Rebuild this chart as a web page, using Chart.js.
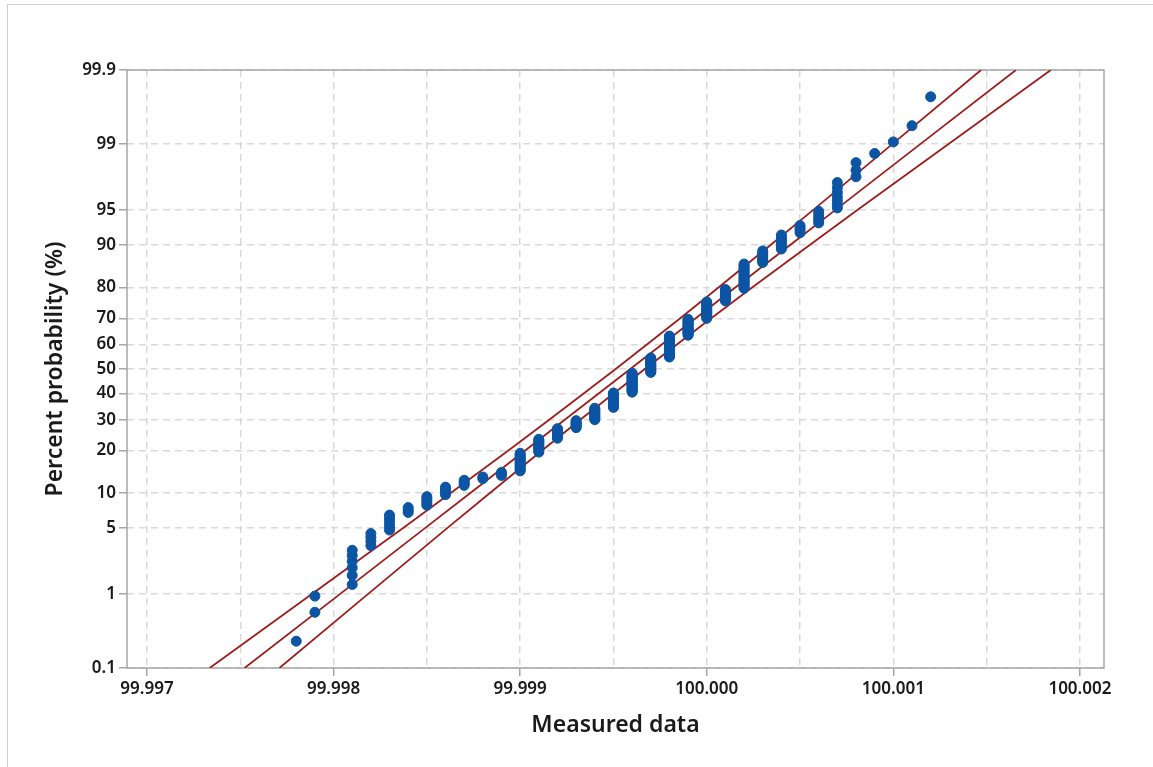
<!DOCTYPE html>
<html>
<head>
<meta charset="utf-8">
<script src="https://cdn.jsdelivr.net/npm/chart.js@4.4.1/dist/chart.umd.min.js"></script>
<style>
  html, body { margin: 0; padding: 0; background: #ffffff; }
  #frame { position: absolute; left: 7px; top: 4px; width: 1160px; height: 780px; border: 1px solid #cfcfcf; }
  #wrap { position: absolute; left: 0; top: 0; width: 1153px; height: 767px; }
</style>
</head>
<body>
<div id="frame"></div>
<div id="wrap"><canvas id="prob-chart"></canvas></div>
<script>
// measured values and how many times each one occurs
const measuredValues = [
    99.9978, 99.9979, 99.9981, 99.9982, 99.9983, 99.9984, 99.9985, 99.9986,
    99.9987, 99.9988, 99.9989, 99.9990, 99.9991, 99.9992, 99.9993, 99.9994,
    99.9995, 99.9996, 99.9997, 99.9998, 99.9999, 100.0000, 100.0001, 100.0002,
    100.0003, 100.0004, 100.0005, 100.0006, 100.0007, 100.0008, 100.0009,
    100.0010, 100.0011, 100.0012
];
const valueCounts = [
    1, 2, 6, 4, 6, 3, 5, 5,
    4, 2, 3, 14, 12, 10, 8, 13,
    17, 23, 18, 25, 18, 17, 11, 19,
    8, 8, 4, 5, 7, 3, 1,
    1, 1, 1
];

// fitted line and confidence bounds, read at these percent levels
const linePercents = [0.1, 1, 5, 10, 20, 30, 50, 70, 80, 90, 95, 99, 99.9];
const fitLine = [
    99.997523, 99.998034, 99.998490, 99.998733, 99.999027, 99.999239, 99.999590,
    99.999941, 100.000153, 100.000447, 100.000690, 100.001146, 100.001657
];
const lowerBound = [
    99.997336, 99.997884, 99.998371, 99.998628, 99.998937, 99.999156, 99.999512,
    99.999858, 100.000063, 100.000342, 100.000571, 100.000996, 100.001470
];
const upperBound = [
    99.997710, 99.998184, 99.998609, 99.998838, 99.999117, 99.999322, 99.999668,
    100.000024, 100.000243, 100.000552, 100.000809, 100.001296, 100.001844
];

const yTickLabels = [0.1, 1, 5, 10, 20, 30, 40, 50, 60, 70, 80, 90, 95, 99, 99.9];
const xGridValues = [
    99.997, 99.9975, 99.998, 99.9985, 99.999, 99.9995,
    100.000, 100.0005, 100.001, 100.0015, 100.002
];

const dotColor = '#0b55a4';
const lineColor = '#9d1d1d';
const gridColor = '#d9d9d9';
const axisColor = '#a6a6a6';
const textColor = '#1a1a1a';

// inverse normal cdf (Acklam), used for the probability scale
function probit(p) {
    const a = [-3.969683028665376e+01, 2.209460984245205e+02, -2.759285104469687e+02,
        1.383577518672690e+02, -3.066479806614716e+01, 2.506628277459239e+00];
    const b = [-5.447609879822406e+01, 1.615858368580409e+02, -1.556989798598866e+02,
        6.680131188771972e+01, -1.328068155288572e+01];
    const c = [-7.784894002430293e-03, -3.223964580411365e-01, -2.400758277161838e+00,
        -2.549732539343734e+00, 4.374664141464968e+00, 2.938163982698783e+00];
    const d = [7.784695709041462e-03, 3.224671290700398e-01, 2.445134137142996e+00,
        3.754408661907416e+00];
    const pLow = 0.02425;
    let q, r;
    if (p < pLow) {
        q = Math.sqrt(-2 * Math.log(p));
        return (((((c[0]*q+c[1])*q+c[2])*q+c[3])*q+c[4])*q+c[5]) / ((((d[0]*q+d[1])*q+d[2])*q+d[3])*q+1);
    }
    if (p <= 1 - pLow) {
        q = p - 0.5;
        r = q * q;
        return (((((a[0]*r+a[1])*r+a[2])*r+a[3])*r+a[4])*r+a[5])*q / (((((b[0]*r+b[1])*r+b[2])*r+b[3])*r+b[4])*r+1);
    }
    q = Math.sqrt(-2 * Math.log(1 - p));
    return -(((((c[0]*q+c[1])*q+c[2])*q+c[3])*q+c[4])*q+c[5]) / ((((d[0]*q+d[1])*q+d[2])*q+d[3])*q+1);
}

// plotting positions (median ranks) for the sorted data
const total = valueCounts.reduce((s, n) => s + n, 0);
const probPoints = [];
let rank = 0;
measuredValues.forEach((v, k) => {
    for (let j = 0; j < valueCounts[k]; j++) {
        rank++;
        probPoints.push({ x: v, y: probit((rank - 0.3) / (total + 0.4)) });
    }
});

const toLine = xs => xs.map((x, i) => ({ x, y: probit(linePercents[i] / 100) }));
const isLabelled = v => Math.round(v * 2000) % 2 === 0;

const lineStyle = {
    showLine: true,
    borderColor: lineColor,
    borderWidth: 1.8,
    pointRadius: 0,
    pointHoverRadius: 0,
    fill: false
};

const framePlugin = {
    id: 'frame',
    beforeDatasetsDraw(chart) {
        const { ctx, chartArea: a } = chart;
        ctx.save();
        ctx.strokeStyle = axisColor;
        ctx.lineWidth = 1.5;
        ctx.strokeRect(a.left, a.top, a.right - a.left, a.bottom - a.top);
        ctx.restore();
    }
};

const tickFont = { family: 'Noto Sans', size: 17, weight: '600' };
const titleFont = { family: 'Noto Sans', size: 23, weight: '600' };

const ctx = document.getElementById('prob-chart').getContext('2d');
new Chart(ctx, {
    type: 'scatter',
    data: {
        datasets: [
            {
                label: 'Measured data',
                data: probPoints,
                backgroundColor: dotColor,
                borderColor: dotColor,
                borderWidth: 1,
                pointRadius: 5
            },
            { label: 'Fit', data: toLine(fitLine), ...lineStyle },
            { label: 'Lower', data: toLine(lowerBound), ...lineStyle },
            { label: 'Upper', data: toLine(upperBound), ...lineStyle }
        ]
    },
    options: {
        responsive: true,
        maintainAspectRatio: false,
        animation: false,
        layout: { padding: { left: 0, top: 70, right: 49, bottom: 0 } },
        plugins: {
            legend: { display: false },
            tooltip: { enabled: false }
        },
        scales: {
            x: {
                type: 'linear',
                min: 99.996893,
                max: 100.002129,
                afterBuildTicks: scale => {
                    scale.ticks = xGridValues.map(v => ({ value: v }));
                },
                afterFit: scale => { scale.height = 99; },
                ticks: {
                    autoSkip: false,
                    maxRotation: 0,
                    padding: 3,
                    color: textColor,
                    font: tickFont,
                    callback: (value, index) => {
                        const v = xGridValues[index];
                        return isLabelled(v) ? v.toFixed(3) : '';
                    }
                },
                grid: {
                    color: gridColor,
                    lineWidth: 1.5,
                    tickLength: 8,
                    tickBorderDash: [],
                    tickColor: c => (c.tick && isLabelled(c.tick.value)) ? axisColor : 'rgba(0,0,0,0)',
                    tickWidth: 1.5
                },
                border: { display: false, dash: [7, 5] },
                title: {
                    display: true,
                    text: 'Measured data',
                    color: textColor,
                    font: titleFont,
                    padding: { top: 0, bottom: 28 }
                }
            },
            y: {
                type: 'linear',
                min: probit(0.001),
                max: probit(0.999),
                afterBuildTicks: scale => {
                    scale.ticks = yTickLabels.map(p => ({ value: probit(p / 100) }));
                },
                afterFit: scale => { scale.width = 127; },
                ticks: {
                    autoSkip: false,
                    padding: 3,
                    color: textColor,
                    font: tickFont,
                    callback: (value, index) => String(yTickLabels[index])
                },
                grid: {
                    color: gridColor,
                    lineWidth: 1.5,
                    tickLength: 8,
                    tickBorderDash: [],
                    tickColor: axisColor,
                    tickWidth: 1.5
                },
                border: { display: false, dash: [7, 5] },
                title: {
                    display: true,
                    text: 'Percent probability (%)',
                    color: textColor,
                    font: titleFont,
                    padding: { top: 42, bottom: 0 }
                }
            }
        }
    },
    plugins: [framePlugin]
});
</script>
</body>
</html>
